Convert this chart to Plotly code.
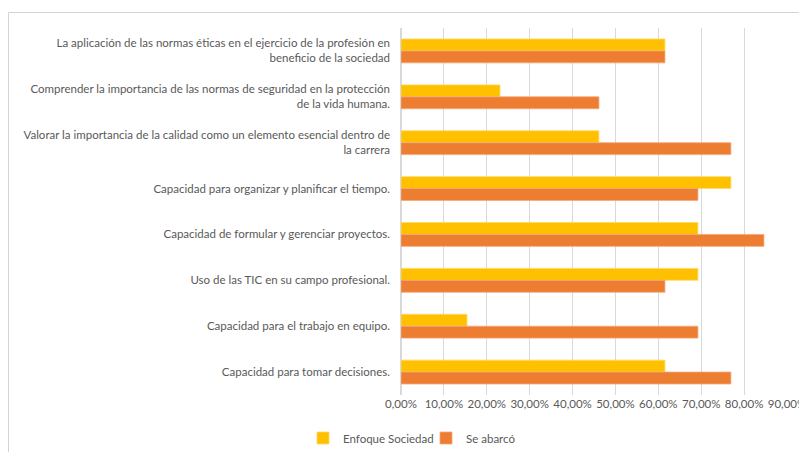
import plotly.graph_objects as go

categories = [
    "La aplicación de las normas éticas en el ejercicio de la profesión en<br>beneficio de la sociedad",
    "Comprender la importancia de las normas de seguridad en la protección<br>de la vida humana.",
    "Valorar la importancia de la calidad como un elemento esencial dentro de<br>la carrera",
    "Capacidad para organizar y planificar el tiempo.",
    "Capacidad de formular y gerenciar proyectos.",
    "Uso de las TIC en su campo profesional.",
    "Capacidad para el trabajo en equipo.",
    "Capacidad para tomar decisiones.",
]
enfoque_sociedad = [0.6154, 0.2308, 0.4615, 0.7692, 0.6923, 0.6923, 0.1538, 0.6154]
se_abarco = [0.6154, 0.4615, 0.7692, 0.6923, 0.8462, 0.6154, 0.6923, 0.7692]
tick_vals = [0, 0.1, 0.2, 0.3, 0.4, 0.5, 0.6, 0.7, 0.8, 0.9]

# page body has an 8px margin, so the figure is 8px smaller and shifted
OFF = 8
W, H = 807 - OFF, 452 - OFF
L, R, T, B = 401 - OFF, 20, 28 - OFF, 57
pw, ph = W - L - R, H - T - B

fig = go.Figure()
fig.add_trace(go.Bar(y=categories, x=enfoque_sociedad, orientation="h",
                     name="Enfoque Sociedad", legend="legend",
                     marker=dict(color="#FFC000", line=dict(color="#FFD966", width=0.8))))
fig.add_trace(go.Bar(y=categories, x=se_abarco, orientation="h",
                     name="Se abarcó", legend="legend2",
                     marker=dict(color="#ED7D31", line=dict(color="#F4A77A", width=0.8))))

def px_x(p):
    return (p - OFF - L) / pw

def px_y(p):
    return (H - B - (p - OFF)) / ph

leg_common = dict(orientation="h", xanchor="left", y=px_y(438), yanchor="middle",
                  font=dict(size=11.5, color="#595959"), itemwidth=30,
                  bgcolor="rgba(0,0,0,0)")

fig.update_layout(
    width=W, height=H,
    margin=dict(l=L, r=R, t=T, b=B, pad=0, autoexpand=False),
    paper_bgcolor="white", plot_bgcolor="white",
    barmode="group", bargap=0.48, bargroupgap=0,
    separators=",.",
    font=dict(family="Lato, Open Sans, sans-serif", size=11.5, color="#595959"),
    showlegend=True,
    legend=dict(x=px_x(303), **leg_common),
    legend2=dict(x=px_x(426), **leg_common),
    xaxis=dict(range=[0, 0.9], tickvals=tick_vals, tickformat=".2%",
               showgrid=True, gridcolor="#D9D9D9", gridwidth=1,
               zeroline=True, zerolinecolor="#D9D9D9", showline=False,
               fixedrange=True, ticks="", automargin=False),
    yaxis=dict(autorange="reversed", showgrid=False, ticks="", showline=False,
               ticklabelstandoff=10, automargin=False),
    shapes=[dict(type="rect", xref="paper", yref="paper",
                 x0=px_x(8.5), x1=px_x(815), y0=px_y(470), y1=px_y(12.5),
                 line=dict(color="#D4D4D4", width=1), layer="below")],
)

fig.write_html("out.html")
